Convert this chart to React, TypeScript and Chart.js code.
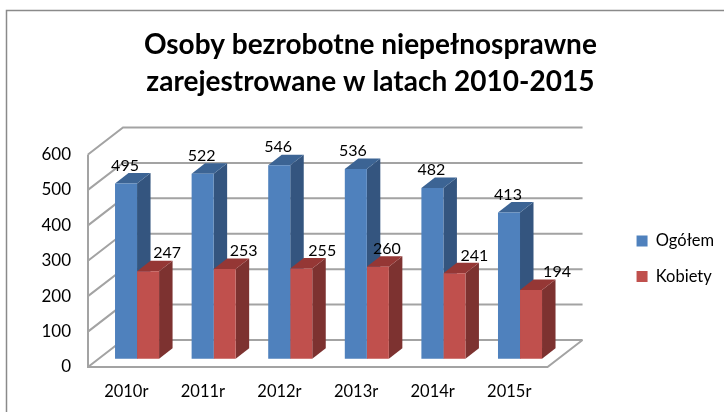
import React, { useEffect, useRef } from "react";
import { Chart, registerables } from "chart.js";

Chart.register(...registerables);

const categories = ["2010r", "2011r", "2012r", "2013r", "2014r", "2015r"];
const ogolem = [495, 522, 546, 536, 482, 413];
const kobiety = [247, 253, 255, 260, 241, 194];
const titleLines = ["Osoby bezrobotne niepełnosprawne", "zarejestrowane w latach 2010-2015"];

const FONT = "Lato, 'Open Sans', sans-serif";
const WALL = { dx: 35, dy: -27 };
const BAR_DEPTH = { dx: 13.5, dy: -10.5 };
const FLOOR_SHIFT_X = 10.75;
const GRID = "#a3a3a3";

const shades: Record<number, { side: string; top: string }> = {
  0: { side: "#34557f", top: "#3c6494" },
  1: { side: "#7d3230", top: "#953735" },
};
const labelShift: Record<number, number[]> = {
  0: [-1, -1, -1, -3, -1, -1],
  1: [19, 19, 21, 9, 20, 26],
};

const threeD = {
  id: "threeD",
  afterLayout(chart: any) {
    chart.legend.top -= 2;
    chart.legend.bottom -= 2;
  },
  beforeDatasetsDraw(chart: any) {
    const { ctx, chartArea, scales } = chart;
    const y = scales.y;
    const left = chartArea.left - FLOOR_SHIFT_X;
    const right = chartArea.right - FLOOR_SHIFT_X;
    ctx.save();
    // outer frame of the chart object
    ctx.strokeStyle = "#8a8a8a";
    ctx.lineWidth = 1.5;
    ctx.beginPath();
    ctx.moveTo(6.5, chart.height);
    ctx.lineTo(6.5, 10.5);
    ctx.lineTo(chart.width, 10.5);
    ctx.stroke();

    // walls and floor
    ctx.strokeStyle = GRID;
    ctx.lineWidth = 2;
    y.ticks.forEach((t: any) => {
      const py = y.getPixelForValue(t.value);
      ctx.beginPath();
      ctx.moveTo(left, py);
      ctx.lineTo(left + WALL.dx, py + WALL.dy);
      ctx.lineTo(right + WALL.dx, py + WALL.dy);
      ctx.stroke();
    });
    const p0 = y.getPixelForValue(0);
    const pTop = y.getPixelForValue(600);
    ctx.beginPath();
    ctx.moveTo(left, pTop);
    ctx.lineTo(left, p0);
    ctx.lineTo(right, p0);
    ctx.lineTo(right + WALL.dx, p0 + WALL.dy);
    ctx.stroke();

    // side and top faces of the bars, first series first
    [0, 1].forEach((i) => {
      const c = shades[i];
      chart.getDatasetMeta(i).data.forEach((bar: any) => {
        const { x, y: top, base, width } = bar.getProps(["x", "y", "base", "width"], true);
        const l = x - width / 2;
        const r = x + width / 2;
        const { dx, dy } = BAR_DEPTH;
        ctx.fillStyle = c.side;
        ctx.beginPath();
        ctx.moveTo(r, top);
        ctx.lineTo(r + dx, top + dy);
        ctx.lineTo(r + dx, base + dy);
        ctx.lineTo(r, base);
        ctx.closePath();
        ctx.fill();
        ctx.fillStyle = c.top;
        ctx.beginPath();
        ctx.moveTo(l, top);
        ctx.lineTo(l + dx, top + dy);
        ctx.lineTo(r + dx, top + dy);
        ctx.lineTo(r, top);
        ctx.closePath();
        ctx.fill();
      });
    });
    ctx.restore();
  },
  afterDatasetsDraw(chart: any) {
    const { ctx } = chart;
    ctx.save();
    ctx.fillStyle = "#000";
    ctx.font = `16px ${FONT}`;
    ctx.textAlign = "center";
    ctx.textBaseline = "middle";
    chart.data.datasets.forEach((ds: any, i: number) => {
      chart.getDatasetMeta(i).data.forEach((bar: any, j: number) => {
        const { x, y } = bar.getProps(["x", "y"], true);
        ctx.fillText(String(ds.data[j]), x + labelShift[i][j], y - 18);
      });
    });
    ctx.restore();
  },
};

export default function App() {
  const ref = useRef<HTMLCanvasElement>(null);
  useEffect(() => {
    const chart = new Chart(ref.current!, {
      type: "bar",
      data: {
        labels: categories,
        datasets: [
          { label: "Ogółem", data: ogolem, backgroundColor: "#4f81bd", yAxisID: "yBars" },
          { label: "Kobiety", data: kobiety, backgroundColor: "#c0504d", yAxisID: "yBars" },
        ],
      },
      options: {
        responsive: false,
        animation: false,
        categoryPercentage: 0.575,
        barPercentage: 1,
        layout: { padding: { left: 16.75, right: 0, top: 0, bottom: 0 } },
        plugins: {
          tooltip: { enabled: false },
          title: {
            display: true,
            text: titleLines,
            color: "#000",
            font: { family: FONT, size: 28, weight: "bold", lineHeight: 37 / 28 },
            padding: { top: 26, bottom: 54.5 },
          },
          legend: {
            position: "right",
            fullSize: false,
            labels: {
              boxWidth: 11,
              boxHeight: 11,
              padding: 19,
              color: "#000",
              font: { family: FONT, size: 16.5 },
            },
          },
        },
        scales: {
          x: {
            grid: { display: false, drawTicks: false },
            border: { display: false },
            ticks: {
              color: "#000",
              font: { family: FONT, size: 16.5 },
              padding: 15,
              labelOffset: -FLOOR_SHIFT_X,
              maxRotation: 0,
              autoSkip: false,
            },
            afterFit: (s: any) => { s.height = 45; },
          },
          y: {
            position: "left",
            min: 0,
            max: 600,
            grid: { display: false, drawTicks: false },
            border: { display: false },
            ticks: { stepSize: 100, color: "#000", font: { family: FONT, size: 17 }, padding: 27.75 },
            afterFit: (s: any) => { s.width = 82; },
          },
          yBars: {
            position: "right",
            min: -23.4,
            max: 576.6,
            grid: { display: false, drawTicks: false },
            border: { display: false },
            ticks: { display: false },
            afterFit: (s: any) => { s.width = 59.25; },
          },
        },
      } as any,
      plugins: [threeD],
    });
    return () => chart.destroy();
  }, []);
  return (
    <canvas
      ref={ref}
      width={724}
      height={412}
      style={{ position: "absolute", left: 0, top: 0, display: "block" }}
    />
  );
}
